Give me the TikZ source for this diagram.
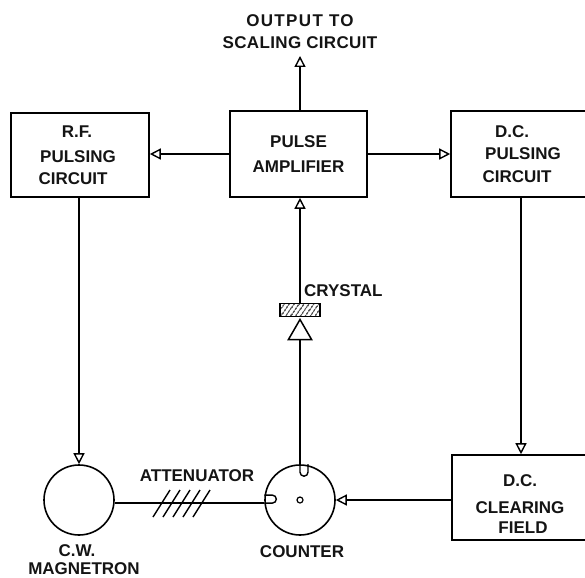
\documentclass[tikz,border=0pt]{standalone}
\usepackage{fontspec}
\setmainfont{Liberation Sans}
\usetikzlibrary{arrows.meta,shapes.geometric,patterns.meta,calc}
\newcommand{\shft}[1]{\hspace*{#1pt}}
\tikzset{
 x=1pt,y=-1pt,
 lbl/.style={font=\fontsize{17}{22}\selectfont\bfseries,align=center,inner sep=0pt,text=black!92},
 blk/.style={draw,line width=1.6pt,inner sep=0pt},
 rnd/.style={draw,circle,line width=1.6pt,minimum size=70pt,inner sep=0pt},
 wire/.style={line width=1.5pt},
 arr/.style={wire,-{Triangle[open,length=11pt,width=11pt,line width=1.4pt]}},
}
\begin{document}
\begin{tikzpicture}
\useasboundingbox (0,0) rectangle (585,577);
\node[blk,lbl,minimum width=138pt,minimum height=84pt] (rf) at (80,155) {\shft{-6}R.F.\\[3pt]\shft{-4}PULSING\\\shft{-14}CIRCUIT};
\node[blk,lbl,minimum width=137pt,minimum height=86pt] (amp) at (298.5,154) {PULSE\\[3pt]AMPLIFIER};
\node[blk,lbl,minimum width=140pt,minimum height=86pt] (dc) at (521,154) {\shft{-18}D.C.\\\shft{4}PULSING\\[1pt]\shft{-8}CIRCUIT};
\node[blk,lbl,minimum width=140pt,minimum height=85pt] (clear) at (522,497.5) {\rule{0pt}{24pt}\shft{-4}D.C.\\[5pt]\shft{-4}CLEARING\\[-2pt]\shft{2}FIELD};
\node[rnd] (mag) at (79,500) {};
\node[rnd] (cnt) at (300,500) {};
\node[draw,circle,line width=1.2pt,minimum size=6pt,inner sep=0pt] (dot) at (300,500) {};
\node[lbl] (outl) at (300,32) {{\addfontfeatures{LetterSpace=8}OUTPUT TO}\\{\addfontfeatures{LetterSpace=2}SCALING CIRCUIT}};
\node[lbl] (magl) at (84,559.5) {\shft{-14}C.W.\\[-4pt]MAGNETRON};
\node[lbl] (cntl) at (302,552) {COUNTER};
\node[lbl] (attl) at (197,476) {ATTENUATOR};
\node[lbl,anchor=west] (cryl) at (304,291) {CRYSTAL};
\coordinate (outp) at (300,56);
\draw[arr] (outp |- amp.north) -- (outp);
\draw[arr] (amp.west) -- (rf.east |- amp.west);
\draw[arr] (amp.east) -- (dc.west);
\draw[arr] (mag |- rf.south) -- (mag.north);
\coordinate (dcdown) at (521,300);
\draw[arr] (dcdown |- dc.south) -- (dcdown |- clear.north);
\draw[arr] (clear.west |- cnt.east) -- (cnt.east);
% crystal
\node[draw,line width=1.5pt,minimum width=40pt,minimum height=13pt,inner sep=0pt,pattern={Lines[angle=55,distance=4pt,line width=1.2pt]}] (xt) at (300,310) {};
\node[draw,isosceles triangle,isosceles triangle apex angle=60,shape border rotate=90,line width=1.5pt,minimum height=20pt,minimum width=23pt,inner sep=0pt,anchor=apex] (xd) at (300,318) {};
\draw[arr] (xt.north) -- (xt.north |- amp.south);
\draw[wire] (xd.south) -- (xd.south |- cnt.north);
% counter stubs
\draw[line width=1.4pt] (cnt.north) -- ++(0,8) arc[start angle=180,end angle=0,radius=4] -- ++(0,-8);
\draw[line width=1.4pt] (cnt.185) -- ++(8,0) arc[start angle=90,end angle=-90,radius=4] -- ++(-8,0);
\draw[wire] (mag.-5) -- (cnt.185);
% attenuator
\foreach \x in {0,1,2,3,4}{
 \draw[line width=1.4pt] (153+\x*10,517) -- (170+\x*10,490);
}
\end{tikzpicture}
\end{document}
